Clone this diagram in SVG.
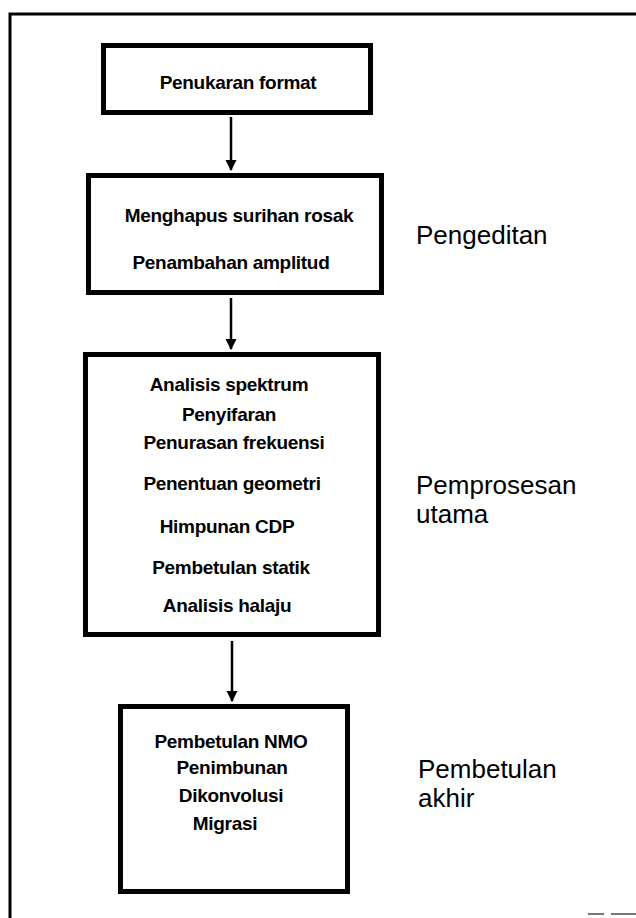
<svg xmlns="http://www.w3.org/2000/svg" width="636" height="918" viewBox="0 0 636 918">
<defs>
<style>
.box{fill:#fff;stroke:#000;stroke-width:5}
.t{font-family:"Liberation Sans",Arial,sans-serif;font-weight:bold;font-size:19px;text-anchor:middle;fill:#000;letter-spacing:-0.3px}
.lab{font-family:"Liberation Sans",Arial,sans-serif;font-size:26px;fill:#000}
.ln{stroke:#000;stroke-width:2.5;fill:none}
</style>
<marker id="ah" viewBox="0 0 11 18" refX="10" refY="9" markerWidth="11" markerHeight="18" markerUnits="userSpaceOnUse" orient="auto">
<path d="M0,3.5 L11,9 L0,14.5 Z" fill="#000"/>
</marker>
</defs>
<rect width="636" height="918" fill="#fff"/>
<path d="M10,918 V14 H636" fill="none" stroke="#000" stroke-width="3"/>
<line x1="588" y1="914" x2="604" y2="914" stroke="#777" stroke-width="2"/>
<line x1="611" y1="914" x2="636" y2="914" stroke="#777" stroke-width="2"/>
<g id="connectors">
<line class="ln" x1="231" y1="117" x2="231" y2="170" marker-end="url(#ah)"/>
<line class="ln" x1="231" y1="298" x2="231" y2="349" marker-end="url(#ah)"/>
<line class="ln" x1="232" y1="641" x2="232" y2="701" marker-end="url(#ah)"/>
</g>
<g id="n1">
<rect class="box" x="103.5" y="45.5" width="267" height="67"/>
<text class="t" x="238" y="89">Penukaran format</text>
</g>
<g id="n2">
<rect class="box" x="88.5" y="175.5" width="293" height="117"/>
<text class="t" x="239" y="222">Menghapus surihan rosak</text>
<text class="t" x="231" y="269">Penambahan amplitud</text>
</g>
<g id="n3">
<rect class="box" x="85.5" y="354.5" width="293" height="280"/>
<text class="t" x="229" y="391">Analisis spektrum</text>
<text class="t" x="229" y="421">Penyifaran</text>
<text class="t" x="234" y="449">Penurasan frekuensi</text>
<text class="t" x="232" y="490">Penentuan geometri</text>
<text class="t" x="227" y="533">Himpunan CDP</text>
<text class="t" x="231" y="574">Pembetulan statik</text>
<text class="t" x="227" y="612">Analisis halaju</text>
</g>
<g id="n4">
<rect class="box" x="120.5" y="706.5" width="227" height="185"/>
<text class="t" x="231" y="748">Pembetulan NMO</text>
<text class="t" x="232" y="774">Penimbunan</text>
<text class="t" x="231" y="802">Dikonvolusi</text>
<text class="t" x="225" y="830">Migrasi</text>
</g>
<g id="labels">
<text class="lab" x="416" y="244">Pengeditan</text>
<text class="lab" x="416" y="494">Pemprosesan</text>
<text class="lab" x="416" y="523">utama</text>
<text class="lab" x="418" y="778">Pembetulan</text>
<text class="lab" x="418" y="807">akhir</text>
</g>
</svg>
